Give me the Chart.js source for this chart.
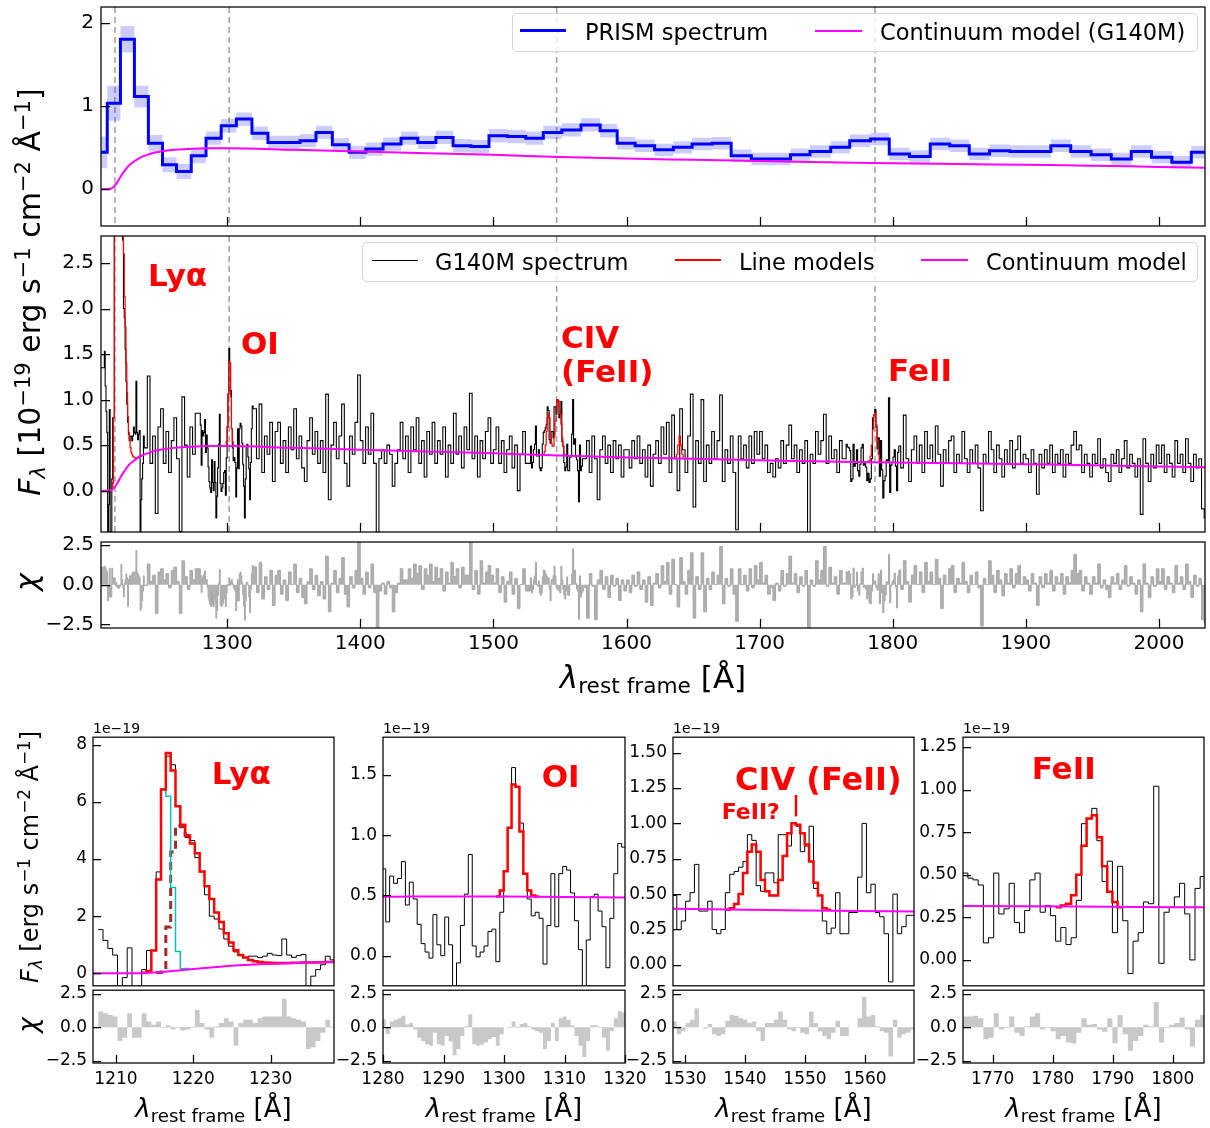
<!DOCTYPE html>
<html>
<head>
<meta charset="utf-8">
<title>PRISM / G140M spectrum</title>
<script src="https://cdn.jsdelivr.net/npm/chart.js@4.4.1/dist/chart.umd.min.js"></script>
<style>
  html, body { margin: 0; padding: 0; background: #fff; }
  #fig { position: relative; width: 1210px; height: 1128px; overflow: hidden; font-family: 'DejaVu Sans', sans-serif; color: #000; }
  #fig canvas { position: absolute; z-index: 1; }
  .t { position: absolute; white-space: nowrap; line-height: 1; z-index: 5; }
  .c { transform: translate(-50%, -50%); }
  .r { transform: translate(-50%, -50%) rotate(-90deg); }
  .ann { color: #ff0000; font-weight: bold; }
  .t sup, .t sub { font-size: 0.7em; line-height: 0; }
  .t sup { vertical-align: 0.5em; }
  .t sub { vertical-align: -0.25em; }
  .leg { position: absolute; box-sizing: border-box; border: 1px solid #d4d4d4; border-radius: 5px; background: rgba(255,255,255,0.8); z-index: 5; }
  .leg span { position: absolute; }
  .leg .lt { font-size: 22.5px; line-height: 1; white-space: nowrap; }
</style>
</head>
<body>
<div id="fig">
  <!-- legends -->
  <div class="leg" style="left:512px;top:13px;width:686px;height:39px;">
    <span style="left:7px;top:15.2px;width:46px;height:3px;background:#0000ff;"></span>
    <span class="lt" style="left:72px;top:7.4px;">PRISM spectrum</span>
    <span style="left:302px;top:15.7px;width:47px;height:2px;background:#ff00ff;"></span>
    <span class="lt" style="left:367px;top:7.4px;">Continuum model (G140M)</span>
  </div>
  <div class="leg" style="left:362px;top:242px;width:836px;height:40px;">
    <span style="left:8.5px;top:16.5px;width:46px;height:1px;background:#000;"></span>
    <span class="lt" style="left:72px;top:7.7px;">G140M spectrum</span>
    <span style="left:311.5px;top:16.2px;width:46px;height:1.5px;background:#ff0000;"></span>
    <span class="lt" style="left:376px;top:7.7px;">Line models</span>
    <span style="left:558px;top:16px;width:47px;height:2px;background:#ff00ff;"></span>
    <span class="lt" style="left:623px;top:7.7px;">Continuum model</span>
  </div>

  <!-- axis labels -->
  <div class="t r" style="left:30px;top:292px;font-size:30px;"><i>F</i><sub><i>λ</i></sub> [10<sup>−19</sup> erg s<sup>−1</sup> cm<sup>−2</sup> Å<sup>−1</sup>]</div>
  <div class="t r" style="left:27px;top:582px;font-size:30px;"><i>χ</i></div>
  <div class="t c" style="left:653px;top:677px;font-size:31px;"><i>λ</i><sub>rest frame</sub> [Å]</div>
  <div class="t r" style="left:30px;top:857px;font-size:24px;"><i>F</i><sub><i>λ</i></sub> [erg s<sup>−1</sup> cm<sup>−2</sup> Å<sup>−1</sup>]</div>
  <div class="t r" style="left:27.5px;top:1025px;font-size:26px;"><i>χ</i></div>
  <div class="t c" style="left:213.5px;top:1107.5px;font-size:26px;"><i>λ</i><sub>rest frame</sub> [Å]</div>
  <div class="t c" style="left:504px;top:1107.5px;font-size:26px;"><i>λ</i><sub>rest frame</sub> [Å]</div>
  <div class="t c" style="left:793.5px;top:1107.5px;font-size:26px;"><i>λ</i><sub>rest frame</sub> [Å]</div>
  <div class="t c" style="left:1083.5px;top:1107.5px;font-size:26px;"><i>λ</i><sub>rest frame</sub> [Å]</div>
  <div class="t" style="left:93px;top:721px;font-size:14px;">1e−19</div>
  <div class="t" style="left:383px;top:721px;font-size:14px;">1e−19</div>
  <div class="t" style="left:673px;top:721px;font-size:14px;">1e−19</div>
  <div class="t" style="left:963px;top:721px;font-size:14px;">1e−19</div>

  <!-- line annotations -->
  <div class="t ann" style="left:148px;top:259.5px;font-size:31px;">Lyα</div>
  <div class="t ann" style="left:241px;top:327.5px;font-size:31px;">OI</div>
  <div class="t ann" style="left:561px;top:321.5px;font-size:31px;">CIV</div>
  <div class="t ann" style="left:561px;top:355.5px;font-size:31px;">(FeII)</div>
  <div class="t ann" style="left:888px;top:354.5px;font-size:31px;">FeII</div>
  <div class="t ann" style="left:211.7px;top:758px;font-size:31px;">Lyα</div>
  <div class="t ann" style="left:541.7px;top:761.4px;font-size:31px;">OI</div>
  <div class="t ann" style="left:735px;top:763px;font-size:32px;">CIV (FeII)</div>
  <div class="t ann" style="left:721.7px;top:800.7px;font-size:22px;">FeII?</div>
  <div class="t ann" style="left:792px;top:793px;font-size:22px;">|</div>
  <div class="t ann" style="left:1031.7px;top:753px;font-size:31px;">FeII</div>
</div>

<script>
// ---------------- data ----------------
// PRISM spectrum (top panel): bin edges [A], flux and 1-sigma [1e-19 erg/s/cm2/A]
const prismEdges = [1204.2, 1209.9, 1219.8, 1230.3, 1240.8, 1251.4, 1261.9, 1273.0, 1284.1, 1295.5,
  1306.9, 1318.6, 1330.6, 1342.6, 1354.7, 1366.7, 1379.0, 1391.6, 1404.2, 1417.1,
  1430.6, 1443.2, 1456.8, 1469.7, 1483.2, 1496.7, 1510.5, 1524.3, 1537.5, 1551.4,
  1565.8, 1580.2, 1593.0, 1606.5, 1621.1, 1635.2, 1649.3, 1664.5, 1678.6, 1693.8,
  1708.5, 1723.2, 1737.8, 1753.4, 1767.7, 1783.3, 1797.4, 1812.6, 1828.2, 1842.8,
  1857.5, 1872.7, 1888.0, 1903.5, 1918.8, 1933.7, 1949.0, 1964.2, 1979.2, 1994.4,
  2009.7, 2024.3, 2037.0];
const prismFlux = [0.44, 1.03, 1.80, 1.11, 0.55, 0.29, 0.21, 0.40, 0.61, 0.76,
  0.84, 0.67, 0.56, 0.56, 0.58, 0.68, 0.53, 0.44, 0.48, 0.54,
  0.61, 0.56, 0.62, 0.52, 0.51, 0.64, 0.63, 0.61, 0.68, 0.71,
  0.77, 0.70, 0.55, 0.52, 0.47, 0.50, 0.54, 0.55, 0.40, 0.36,
  0.36, 0.41, 0.45, 0.50, 0.58, 0.60, 0.42, 0.39, 0.54, 0.52,
  0.42, 0.46, 0.45, 0.45, 0.52, 0.45, 0.41, 0.36, 0.45, 0.38,
  0.32, 0.44];
const prismErr = [0.19, 0.21, 0.16, 0.13, 0.10, 0.09, 0.09, 0.09, 0.08, 0.08,
  0.08, 0.08, 0.08, 0.08, 0.08, 0.08, 0.08, 0.08, 0.08, 0.08,
  0.08, 0.08, 0.08, 0.08, 0.08, 0.08, 0.08, 0.08, 0.08, 0.08,
  0.08, 0.08, 0.075, 0.075, 0.075, 0.075, 0.075, 0.075, 0.075, 0.075,
  0.075, 0.075, 0.075, 0.075, 0.075, 0.075, 0.075, 0.075, 0.075, 0.075,
  0.075, 0.075, 0.075, 0.075, 0.075, 0.075, 0.075, 0.075, 0.075, 0.075,
  0.075, 0.075];

// continuum model (G140M fit), sampled along the curve
const contLam = [1204, 1210, 1213, 1215, 1217, 1220, 1223, 1226, 1230, 1235,
  1240, 1245, 1250, 1260, 1270, 1285, 1300, 1350, 1400, 1450,
  1500, 1550, 1600, 1650, 1700, 1750, 1800, 1850, 1900, 1950,
  2000, 2040];
const contFlux = [0.0, 0.0, 0.005, 0.03, 0.07, 0.15, 0.22, 0.28, 0.33, 0.38,
  0.41, 0.435, 0.45, 0.47, 0.48, 0.49, 0.49, 0.47, 0.45, 0.43,
  0.41, 0.385, 0.365, 0.35, 0.335, 0.32, 0.31, 0.30, 0.29, 0.28,
  0.265, 0.255];

// G140M spectrum on a 2 A grid starting at 1204 A (flux and chi)
const g140mStart = 1204, g140mStep = 2;
const g140mFlux = [
  1.35, 0.5, 1.2, 0.7, -0.5, 0.8, 5.0, 7.0, 4.5, 3.0, 1.6, 0.9, 0.6, 0.6, 0.9, -0.5, 0.2,
  0.4, 1.26, 0.3, 0.6, -0.25, 0.7, 0.9, 0.3, 0.65, 0.2, 0.55, 0.8, 0.35, -0.45, 1.03, 0.5, 0.15, 0.7, 0.4, 0.85, 0.3,
  0.6, 0.7, 0.5, 0.2, 0.1, 0.2, -0.2, 0.7, 0.05, 0.2, 0.9, 1.4, 0.5, 0.3, 0.5, 0.7, 0.2, 0.4, 0.3, 0.8,
  0.9, 0.35, 0.95, 0.2, 0.6, 0.4, 0.75, 0.1, 0.65, 0.75, 0.3, 0.55, 0.2, 0.7, 0.45, 0.9, 0.35, 0.6, 0.25, 0.1,
  0.55, 0.8, 0.4, 0.65, 0.3, 0.55, 0.2, 1.06, -0.1, 0.5, 0.75, 0.35, 0.6, 0.95, 0.3, 0.05, 0.6, 0.4, 0.75, 1.27,
  0.55, 0.3, 0.7, 0.4, 0.85, 0.3, -0.46, 0.35, 0.45, 0.3, 0.5, 0.4, 0.05, 0.3, 0.45, 0.75, 0.35, 0.6, 0.2, 0.7,
  0.45, 0.8, 0.3, 0.55, 0.15, 0.65, 0.4, 0.75, 0.3, 0.55, 0.4, 0.7, 0.15, 0.5, 0.3, 0.85, 0.4, 0.6, 0.25, 0.7,
  0.45, 1.07, 0.35, 0.6, 0.15, 0.55, 0.35, 0.65, 0.8, 0.3,
  0.45, 0.7, 0.3, 0.55, 0.2, 0.45, 0.6, 0.25, 0.5, 0.0, 0.4, 0.65, 0.3, 0.5, 0.35, 0.4, 0.6, 0.25, 0.4, 0.6,
  0.75, 0.85, 0.55, 0.8, 0.95, 0.8, 0.45, 0.25, 0.3, 0.35, 0.8, 0.45, 0.3, 0.1, 0.3, 0.55, 0.2, 0.6, 0.35, -0.1,
  0.45, 0.6, 0.3, 0.5, 0.2, 0.55, 0.35, 0.5, 0.15, 0.45,
  0.45, 0.25, 0.55, 0.35, 0.6, 0.3, 0.45, 0.15, 0.5, 0.05, 0.4, 0.55, 0.3, 0.7, 0.4, 0.75, 0.2, 0.83, 0.35, 0.0,
  0.9, 0.45, 0.2, 0.6, 1.06, -0.18, 0.55, 0.3, 1.0, 0.1, 0.5, 0.3, 0.65, 0.35, 0.55, 1.05, 0.1, 0.45, 0.3, 0.6,
  0.2, -0.43, 0.6, 0.35, 0.5, 0.25, 0.6, 0.3, 0.65, 0.4,
  0.65, 0.35, 0.5, 0.2, 0.3, 0.15, 0.35, 0.25, 0.55, 0.3, 0.5, 0.72, 0.35, 0.5, 0.2, 0.45, 0.3, 0.55, -0.46, 0.4,
  0.3, 0.65, 0.4, 0.55, 0.84, 0.3, 0.6, 0.35, 0.45, 0.2, 0.55, 0.35, 0.67, 0.45, 0.1, 0.5, 0.3, 0.4, 0.2, 0.5,
  0.3, 0.1, 0.35, 0.85, 0.6, 0.4, 0.2, 0.15, 0.35, 1.0,
  0.45, 0.3, 0.4, 0.25, 0.83, 0.35, 0.1, 0.45, 0.6, 0.3, 0.5, 0.2, 0.65, 0.35, 0.5, 0.3, 0.71, 0.4, 0.05, 0.45,
  0.3, 0.55, 0.6, 0.2, 0.4, 0.3, 0.65, 0.35, 0.2, 0.45, 0.3, 0.5, 0.25, -0.22, 0.4, 0.3, 0.65, 0.45, 0.2, 0.5,
  0.35, 0.15, 0.45, 0.3, 0.55, 0.25, 0.45, 0.6, 0.3, 0.4,
  0.35, 0.2, 0.45, 0.3, -0.04, 0.4, 0.25, 0.45, 0.3, 0.5, 0.2, 0.4, 0.3, 0.45, 0.15, 0.4, 0.3, 0.5, 0.65, 0.45,
  0.5, 0.2, 0.4, 0.3, 0.15, 0.4, 0.3, 0.57, 0.25, 0.35, 0.2, 0.1, 0.4, 0.3, 0.45, 0.2, 0.35, 0.55, 0.25, 0.4,
  0.3, 0.15, 0.35, -0.26, 0.57, 0.3, 0.1, 0.4, 0.25, 0.5,
  0.3, 0.5, 0.2, 0.4, 0.3, 0.15, 0.55, 0.3, 0.4, 0.2, 0.57, 0.3, 0.1, 0.4, 0.25, 0.35, -0.2, -0.3];
const g140mChi = [
  1.1, 1.0, 0.9, 0.7, -0.9, 1.0, 0.3, 0.2, 0.0, -0.2, 0.1, 1.2, 0.4, -0.8, 0.6, 0.8, -1.6,
  0.4, 1.3, 0.2, 0.6, -1.8, 0.8, 1.0, 0.3, 0.7, -0.2, 0.9, 1.1, 0.2, -1.8, 1.5, 0.5, -0.3, 0.9, 0.3, 1.0, -0.4,
  0.6, 0.7, 0.3, -0.9, -1.3, -1.0, -2.1, 0.8, -1.4, -0.9, 0.5, 0.2, 0.0, -0.6, 0.3, 0.7, -2.2, -0.3, -0.6, 0.9,
  1.2, -0.5, 1.4, -0.9, 0.5, -0.3, 0.9, -1.3, 0.6, 0.9, -0.6, 0.3, -1.0, 0.8, 0.0, 1.3, -0.5, 0.4, -0.8, -1.2,
  0.2, 1.0, -0.3, 0.6, -0.7, 0.2, -0.9, 1.8, -1.7, 0.1, 0.9, -0.5, 0.4, 1.7, -0.6, -1.4, 0.5, -0.2, 0.9, 2.7,
  0.4, -0.6, 0.8, -0.2, 1.3, -0.5, -2.9, -0.4, 0.1, -0.6, 0.2, -0.2, -1.7, -0.5, 0.1, 1.0, 0.3, 0.3, 1.0, 0.4,
  1.3, 0.7, 1.2, -0.3, 1.0, 0.6, 1.3, 0.2, 1.1, 0.4, 1.0, -0.4, 0.8, 0.1, 1.4, 0.5, 1.0, -0.2, 1.1, 0.6,
  0.6, 2.7, -0.3, 0.9, -0.6, 1.5, 0.1, 0.8, 1.2, 0.6,
  0.1, 1.0, -0.5, 0.5, -1.1, 0.2, 0.8, -0.6, 0.4, -1.5, 0.0, 1.0, -0.4, 0.6, -0.1, 0.1, 0.8, -0.6, 0.1, 0.8,
  1.3, 1.4, 0.5, 1.2, 1.0, 0.6, 0.3, -0.5, -0.4, 2.3, 0.3, -0.4, -2.0, -1.4, 0.2, -2.1, 0.7, -0.1, -2.2, 0.3,
  0.9, -0.3, 0.5, -0.8, 0.6, -0.1, 0.4, -1.0, 0.3, -0.4,
  0.3, -0.5, 0.6, -0.1, 0.8, -0.3, 0.3, -1.1, 0.5, -1.3, 0.1, 0.7, -0.2, 1.2, 0.2, 1.4, -0.6, 1.6, 0.0, -1.4,
  1.7, 0.2, -0.6, 0.9, 2.0, -2.1, 0.5, -0.3, 2.0, -1.7, 0.4, -0.3, 0.8, 0.0, 0.6, 2.4, -1.2, 0.4, -0.1, 1.0,
  -0.6, -2.3, 1.0, 0.0, 0.6, -0.4, 1.0, -0.2, 1.2, 0.3,
  1.4, 0.1, 0.6, -0.6, -0.2, -1.0, 0.1, -0.4, 0.9, -0.1, 0.7, 1.8, 0.1, 0.7, -0.5, 0.5, -0.1, 0.9, -2.7, 0.3,
  -0.1, 1.5, 0.3, 0.9, 2.4, -0.1, 1.1, 0.1, 0.5, -0.6, 0.9, 0.1, 1.4, 0.5, -1.2, 0.8, -0.1, 0.3, -0.6, 0.8,
  0.0, -1.2, 0.2, 1.0, 0.3, 0.3, -0.6, -0.9, 0.2, 1.9,
  0.5, 0.0, 0.4, -0.3, 1.5, 0.2, -1.1, 0.6, 1.2, 0.0, 0.8, -0.5, 1.4, 0.2, 0.8, 0.0, 1.6, 0.4, -1.5, 0.6,
  0.0, 1.0, 1.2, -0.5, 0.4, 0.1, 1.4, 0.2, -0.5, 0.6, 0.0, 0.8, -0.2, -2.6, 0.4, 0.0, 1.5, 0.6, -0.5, 0.9,
  0.3, -0.7, 0.7, 0.1, 1.0, -0.2, 0.7, 1.2, 0.0, 0.5,
  0.3, -0.4, 0.7, 0.1, -1.3, 0.5, -0.2, 0.7, 0.1, 0.9, -0.4, 0.5, 0.1, 0.7, -0.6, 0.5, 0.1, 0.9, 1.9, 0.7,
  0.9, -0.4, 0.5, 0.1, -0.6, 0.5, 0.1, 1.3, -0.2, 0.3, -0.3, -0.8, 0.5, 0.1, 0.7, -0.3, 0.3, 1.2, -0.1, 0.5,
  0.1, -0.6, 0.3, -1.7, 1.3, 0.1, -0.8, 0.5, -0.1, 1.0,
  0.2, 1.0, -0.3, 0.5, 0.1, -0.5, 1.2, 0.1, 0.5, -0.3, 1.3, 0.2, -0.8, 0.6, -0.1, 0.4, -2.2, -2.4];

// Lya zoom: full-resolution bins
const lyaStart = 1207.7, lyaStep = 0.625;
const lyaFlux = [1.53, 1.15, 0.87, 0.64, -0.5, -0.15, 0.89, -0.5, -0.45, 0.13,
  0.8, 0.8, 3.55, 6.45, 7.6, 7.3, 5.85, 5.2, 4.75, 4.65,
  4.05, 3.55, 2.75, 2.0, 1.9, 1.55, 1.2, 0.95, 0.75, 0.62,
  0.55, 0.6, 0.6, 0.55, 0.6, 0.7, 0.64, 0.62, 1.2, 0.64,
  0.56, 0.62, 0.66, -0.5, -0.1, 0.13, 0.3, 0.6, 0.47];
const lyaChi = [1.17, 1.04, 0.92, 0.8, -1.02, -0.78, 1.04, -0.78, -0.78, 1.04,
  0.44, 0.19, 0.44, -0.05, 0.15, -0.17, -0.05, -0.24, -0.17, -0.05,
  1.29, 0.32, -0.17, -0.78, 0.07, 0.32, 0.68, 0.44, -1.38, 0.32,
  0.56, 0.56, 0.32, 0.68, 0.8, 0.8, 0.8, 0.8, 2.14, 0.8,
  0.68, 0.56, 0.44, -1.63, -1.5, -1.02, -0.41, 0.56, -0.05];
const lyaModel = [null, null, null, null, null, null, null, null, null, 0.02,
  0.08, 0.8, 3.28, 6.43, 7.71, 7.1, 5.85, 5.2, 4.82, 4.54,
  4.2, 3.56, 3.05, 2.6, 2.13, 1.8, 1.4, 1.08, 0.81, 0.64,
  0.55, 0.47, 0.42, 0.40, 0.38, 0.37, 0.36, 0.36, 0.36, 0.36,
  0.37, 0.37, 0.38, 0.38, 0.38, 0.39, 0.39, 0.40, 0.40];
const lyaBluePeak = [null, null, null, null, null, null, null, null, null, null,
  0.08, 0.8, 3.28, 6.43, 6.2, 3.0, 0.76, 0.16, 0.17, null,
  null, null, null, null, null, null, null, null, null, null,
  null, null, null, null, null, null, null, null, null, null,
  null, null, null, null, null, null, null, null, null];
const lyaRedPeak = [null, null, null, null, null, null, null, null, null, null,
  null, null, 0.03, 0.05, 1.62, 4.25, 5.17, 5.13, 4.82, null,
  null, null, null, null, null, null, null, null, null, null,
  null, null, null, null, null, null, null, null, null, null,
  null, null, null, null, null, null, null, null, null];

// OI zoom
const oiStart = 1279.8, oiStep = 0.65;
const oiFlux = [0.72, 0.28, 0.66, 0.6, 0.64, 0.78, 0.42, 0.61, 0.47, 0.26,
  0.1, 0.03, -0.02, 0.34, 0.09, 0.0, 0.32, 0.09, -0.3, -0.06,
  0.25, 0.51, 0.84, 0.08, -0.01, 0.03, 0.08, 0.2, 0.22, -0.05,
  0.36, 0.7, 1.06, 1.56, 1.4, 1.1, 0.68, 0.47, 0.33, 0.36,
  0.31, -0.07, 0.25, 0.68, 0.24, 0.68, 0.74, 0.71, 0.52, 0.29,
  0.05, -0.3, 0.13, 0.49, 0.51, 0.37, 0.24, -0.1, 0.31, 0.68,
  0.93, 0.9];
const oiChi = [0.6, -0.5, 0.44, 0.56, 0.68, 0.87, 0.2, 0.32, -0.17, -0.78,
  -1.02, -1.26, -1.38, -0.41, -1.26, -1.38, -0.66, -1.07, -2.1, -1.63,
  -0.66, 0.07, 0.97, -1.26, -1.38, -1.31, -1.14, -0.9, -0.73, -1.38,
  -0.53, 0.0, -0.05, 0.44, -0.05, 0.24, 0.32, 0.07, -0.17, -0.29,
  -0.41, -1.63, -1.02, 0.32, -1.02, 0.68, 0.8, 0.56, 0.15, -0.66,
  -1.38, -2.23, -1.02, 0.15, 0.15, -0.05, -0.78, -1.75, -0.29, 0.68,
  1.21, 1.12];
const oiModel = [null, null, null, null, null, null, null, null, null, null,
  null, null, null, null, null, null, null, null, null, null,
  null, null, null, null, null, null, null, null, null, 0.49,
  0.54, 0.7, 1.06, 1.42, 1.40, 1.03, 0.68, 0.54, 0.5, 0.49];

// CIV zoom
const civStart = 1527.9, civStep = 0.735;
const civFlux = [0.49, 0.25, 0.31, 0.45, 0.51, 0.71, 0.38, 0.38, 0.45, 0.25,
  0.22, 0.25, 0.51, 0.64, 0.66, 0.69, 0.73, 0.92, 0.88, 0.56,
  0.52, 0.65, 0.65, 0.58, 0.92, 0.92, 0.84, 1.0, 0.98, 0.8,
  0.84, 0.98, 0.54, 0.49, 0.31, 0.22, 0.26, 0.51, 0.22, 0.22,
  0.37, 0.37, 0.62, 1.0, 0.51, 0.57, 0.37, 0.34, 0.22, -0.12,
  0.5, 0.22, 0.27, 0.35, 0.35];
const civChi = [0.44, -0.53, -0.29, 0.32, 0.56, 1.41, 0.0, -0.1, 0.24, -0.53,
  -0.66, -0.53, 0.49, 0.92, 0.87, 0.68, 0.56, 0.32, 0.44, -0.29,
  -1.02, 0.32, 0.32, 0.56, 1.17, 0.56, -0.17, -0.29, -0.05, -0.41,
  -0.53, 1.17, 0.32, -0.29, -0.66, -0.9, -0.41, 0.49, -0.66, -0.66,
  0.0, 0.0, 0.68, 2.26, 0.8, 0.92, 0.07, -0.29, -0.41, -2.18,
  0.56, -0.78, -0.53, -0.41, -0.17];
const civModel = [null, null, null, null, null, null, null, null, null, null,
  null, null, 0.39, 0.40, 0.43, 0.5, 0.65, 0.8, 0.85, 0.8,
  0.6, 0.52, 0.49, 0.49, 0.6, 0.77, 0.93, 1.0, 0.99, 0.93,
  0.85, 0.73, 0.58, 0.49, 0.40, 0.39];

// HeII 1640 bump (only in the full-range panel)
const heiiStart = 1636.5, heiiStep = 1.0;
const heiiModel = [0.37, 0.40, 0.50, 0.60, 0.50, 0.40, 0.37];

// FeII 1786 zoom
const feStart = 1765.0, feStep = 0.86;
const feFlux = [0.51, 0.48, 0.47, 0.44, 0.10, 0.13, 0.51, 0.27, 0.30, 0.45,
  0.22, 0.16, 0.29, 0.47, 0.51, 0.28, 0.32, 0.26, 0.11, 0.19,
  0.09, 0.13, 0.35, 0.80, 0.83, 0.89, 0.70, 0.46, 0.58, 0.16,
  0.55, 0.23, -0.08, 0.11, 0.16, 0.34, 0.33, 1.02, -0.02, 0.28,
  0.31, 0.37, 0.45, 0.27, 0.0, 0.42, 0.49];
const feChi = [0.8, 0.8, 0.87, 0.68, -0.9, -0.78, 1.04, -0.17, -0.05, 0.8,
  -0.41, -0.66, 0.07, 0.8, 1.04, -0.17, -0.05, -0.29, -0.9, -0.66,
  -1.14, -1.21, -0.41, 0.68, 0.19, 0.24, -0.17, -0.34, 0.68, -1.2,
  0.92, -0.53, -1.75, -1.02, -0.66, 0.19, 0.07, 1.89, -1.14, -0.05,
  0.19, 0.32, 0.73, -0.17, -1.46, 0.56, 0.92];
const feModel = [null, null, null, null, null, null, null, null, null, null,
  null, null, null, null, null, null, null, null, 0.31, 0.32,
  0.33, 0.38, 0.5, 0.67, 0.83, 0.85, 0.72, 0.55, 0.4, 0.34, 0.31];

// ticks and marked lines
const mainXTicks = [1300, 1400, 1500, 1600, 1700, 1800, 1900, 2000];
const topYTicks = [0, 1, 2];
const midYTicks = [0, 0.5, 1, 1.5, 2, 2.5];
const chiYTicks = [-2.5, 0, 2.5];
const lyaXTicks = [1210, 1220, 1230];
const lyaYTicks = [0, 2, 4, 6, 8];
const oiXTicks = [1280, 1290, 1300, 1310, 1320];
const oiYTicks = [0, 0.5, 1, 1.5];
const civXTicks = [1530, 1540, 1550, 1560];
const civYTicks = [0, 0.25, 0.5, 0.75, 1, 1.25, 1.5];
const feXTicks = [1770, 1780, 1790, 1800];
const feYTicks = [0, 0.25, 0.5, 0.75, 1, 1.25];
const lineLams = [1215.7, 1301.5, 1547.5, 1786.7];

// ---------------- helpers ----------------
const FONT = "'DejaVu Sans', sans-serif";
const fig = document.getElementById('fig');

function fmt(v, d) {
  return (v < 0 ? '\u2212' : '') + Math.abs(v).toFixed(d);
}

// x = left edge of each bin, plus one point to close the last bin
function stepData(start, step, vals) {
  const pts = [];
  let last = -1;
  vals.forEach((v, i) => {
    if (v === null) return;
    pts.push({x: start + i * step, y: v});
    last = i;
  });
  if (last >= 0) pts.push({x: start + (last + 1) * step, y: vals[last]});
  return pts;
}
function edgeData(edges, vals, err, sign) {
  const pts = vals.map((v, i) => ({x: edges[i], y: v + sign * (err ? err[i] : 0)}));
  pts.push({x: edges[vals.length], y: pts[pts.length - 1].y});
  return pts;
}
function curveData(xs, ys) {
  return xs.map((x, i) => ({x: x, y: ys[i]}));
}

// coarse G140M grid with the zoom windows dropped in at full resolution
const windows = [
  {start: lyaStart, step: lyaStep, flux: lyaFlux, chi: lyaChi},
  {start: oiStart, step: oiStep, flux: oiFlux, chi: oiChi},
  {start: civStart, step: civStep, flux: civFlux, chi: civChi},
  {start: feStart, step: feStep, flux: feFlux, chi: feChi}
];
function splice(grid, key) {
  const pts = [];
  grid.forEach((v, i) => {
    const a = g140mStart + i * g140mStep, b = a + g140mStep;
    const inside = windows.some(w => b > w.start && a < w.start + w[key].length * w.step);
    if (!inside) pts.push({x: a, y: v});
  });
  windows.forEach(w => w[key].forEach((v, i) => pts.push({x: w.start + i * w.step, y: v})));
  pts.sort((p, q) => p.x - q.x);
  pts.push({x: g140mStart + grid.length * g140mStep, y: pts[pts.length - 1].y});
  return pts;
}

// 'before' = hold each value from its own x up to the next point
function ln(data, color, width, more) {
  return Object.assign({data: data, borderColor: color, borderWidth: width, pointRadius: 0,
    fill: false, stepped: 'before'}, more || {});
}
function contSet(width) {
  return ln(curveData(contLam, contFlux), '#ff00ff', width,
    {stepped: false, cubicInterpolationMode: 'monotone', order: 0});
}

// frame, inward ticks and the dashed line markers
const framePlugin = {
  id: 'frame',
  beforeDatasetsDraw(chart, args, opts) {
    const ctx = chart.ctx, a = chart.chartArea, x = chart.scales.x;
    (opts.vlines || []).forEach(v => {
      const px = x.getPixelForValue(v);
      ctx.save();
      ctx.strokeStyle = '#a0a0a0';
      ctx.lineWidth = 1.5;
      ctx.setLineDash([6, 4]);
      ctx.beginPath();
      ctx.moveTo(px, a.top);
      ctx.lineTo(px, a.bottom);
      ctx.stroke();
      ctx.restore();
    });
  },
  afterDraw(chart, args, opts) {
    const ctx = chart.ctx, a = chart.chartArea, x = chart.scales.x, y = chart.scales.y;
    ctx.save();
    ctx.strokeStyle = '#000';
    ctx.lineWidth = 1.25;
    ctx.setLineDash([]);
    ctx.strokeRect(a.left, a.top, a.right - a.left, a.bottom - a.top);
    ctx.beginPath();
    (opts.yt || []).forEach(v => {
      const py = Math.round(y.getPixelForValue(v)) + 0.5;
      ctx.moveTo(a.left, py);
      ctx.lineTo(a.left + opts.len, py);
    });
    (opts.xt || []).forEach(v => {
      const px = Math.round(x.getPixelForValue(v)) + 0.5;
      ctx.moveTo(px, a.bottom);
      ctx.lineTo(px, a.bottom - opts.len);
    });
    ctx.stroke();
    ctx.restore();
  }
};

// one canvas per subplot, sized so the chart area lands on box
function panel(box, o) {
  const c = document.createElement('canvas');
  const w = o.yW + box.w + o.padR, h = o.padT + box.h + o.padB;
  c.width = w;
  c.height = h;
  c.style.left = (box.x - o.yW) + 'px';
  c.style.top = (box.y - o.padT) + 'px';
  c.style.width = w + 'px';
  c.style.height = h + 'px';
  fig.appendChild(c);
  const showX = !!o.xLabels;
  return new Chart(c, {
    type: 'line',
    data: {datasets: o.datasets},
    options: {
      responsive: false,
      animation: false,
      events: [],
      layout: {padding: {left: 0, top: o.padT, right: o.padR, bottom: showX ? 0 : o.padB}},
      scales: {
        x: {
          type: 'linear', min: o.xMin, max: o.xMax,
          grid: {display: false, drawTicks: false}, border: {display: false},
          ticks: {display: showX, color: '#000', font: {family: FONT, size: o.fs}, padding: o.xPad || 0,
            maxRotation: 0, autoSkip: false, callback: v => fmt(v, 0)},
          afterBuildTicks: s => { s.ticks = o.xTicks.map(v => ({value: v})); },
          afterFit: s => { s.height = showX ? o.padB : 0; }
        },
        y: {
          type: 'linear', min: o.yMin, max: o.yMax,
          grid: {display: false, drawTicks: false}, border: {display: false},
          ticks: {color: '#000', font: {family: FONT, size: o.fs}, padding: o.yPad, autoSkip: false,
            callback: v => fmt(v, o.yDec)},
          afterBuildTicks: s => { s.ticks = o.yTicks.map(v => ({value: v})); },
          afterFit: s => { s.width = o.yW; }
        }
      },
      plugins: {
        legend: {display: false},
        tooltip: {enabled: false},
        frame: {xt: o.xMarks ? o.xTicks : [], yt: o.yTicks, len: o.tickLen, vlines: o.vlines}
      }
    },
    plugins: [framePlugin]
  });
}

// ---------------- full-range panels ----------------
const main = {xMin: 1205.2, xMax: 2034.6, xTicks: mainXTicks, xMarks: true, fs: 20,
  yW: 101, padT: 14, padR: 5, tickLen: 9, yPad: 7};

panel({x: 101, y: 2, w: 1104, h: 229}, Object.assign({}, main, {
  yMin: -0.445, yMax: 2.187, yTicks: topYTicks, yDec: 0, padB: 14, vlines: lineLams,
  datasets: [
    ln(edgeData(prismEdges, prismFlux, null, 0), '#0000ff', 3, {order: 1}),
    contSet(2),
    ln(edgeData(prismEdges, prismFlux, prismErr, 1), 'rgba(0,0,0,0)', 0,
      {fill: '+1', backgroundColor: 'rgba(0,0,255,0.2)', order: 2}),
    ln(edgeData(prismEdges, prismFlux, prismErr, -1), 'rgba(0,0,0,0)', 0, {order: 2})
  ]
}));

panel({x: 101, y: 231, w: 1104, h: 306}, Object.assign({}, main, {
  yMin: -0.454, yMax: 2.797, yTicks: midYTicks, yDec: 1, padB: 14, vlines: lineLams,
  datasets: [
    ln(splice(g140mFlux, 'flux'), '#000000', 1.1, {order: 2}),
    ln(stepData(lyaStart, lyaStep, lyaModel), '#ff0000', 1.2, {order: 1}),
    ln(stepData(oiStart, oiStep, oiModel), '#ff0000', 1.2, {order: 1}),
    ln(stepData(civStart, civStep, civModel), '#ff0000', 1.2, {order: 1}),
    ln(stepData(heiiStart, heiiStep, heiiModel), '#ff0000', 1.2, {order: 1}),
    ln(stepData(feStart, feStep, feModel), '#ff0000', 1.2, {order: 1}),
    contSet(2)
  ]
}));

panel({x: 101, y: 537, w: 1104, h: 91}, Object.assign({}, main, {
  yMin: -2.72, yMax: 2.68, yTicks: chiYTicks, yDec: 1, padB: 50, xLabels: true, xPad: 4,
  datasets: [ln(splice(g140mChi, 'chi'), '#a8a8a8', 1, {fill: 'origin', backgroundColor: '#b0b0b0'})]
}));

// ---------------- zoom panels ----------------
const zooms = [
  {x: 93, w: 241, xMin: 1207.03, xMax: 1238.2, xTicks: lyaXTicks, yMin: -0.437, yMax: 8.265,
   yTicks: lyaYTicks, yDec: 0, start: lyaStart, step: lyaStep, flux: lyaFlux, chi: lyaChi, model: lyaModel,
   extra: [
     ln(stepData(lyaStart, lyaStep, lyaBluePeak), '#00bfbf', 1.5, {order: 2}),
     ln(stepData(lyaStart, lyaStep, lyaRedPeak), '#a52a2a', 3, {borderDash: [8, 5], order: 2})
   ]},
  {x: 383, w: 242, xMin: 1280, xMax: 1320, xTicks: oiXTicks, yMin: -0.25, yMax: 1.812,
   yTicks: oiYTicks, yDec: 1, start: oiStart, step: oiStep, flux: oiFlux, chi: oiChi, model: oiModel},
  {x: 673, w: 241, xMin: 1528.0, xMax: 1568.17, xTicks: civXTicks, yMin: -0.148, yMax: 1.609,
   yTicks: civYTicks, yDec: 2, start: civStart, step: civStep, flux: civFlux, chi: civChi, model: civModel},
  {x: 963, w: 241, xMin: 1765.05, xMax: 1805.2, xTicks: feXTicks, yMin: -0.152, yMax: 1.308,
   yTicks: feYTicks, yDec: 2, start: feStart, step: feStep, flux: feFlux, chi: feChi, model: feModel}
];

zooms.forEach(z => {
  const common = {xMin: z.xMin, xMax: z.xMax, xTicks: z.xTicks, fs: 17, yW: 60, padT: 14, padR: 30,
    tickLen: 8, yPad: 6};
  const sets = [
    ln(stepData(z.start, z.step, z.flux), '#000000', 1, {order: 3}),
    ln(stepData(z.start, z.step, z.model), '#ff0000', 2.5, {order: 1}),
    contSet(2)
  ].concat(z.extra || []);
  panel({x: z.x, y: 735, w: z.w, h: 253}, Object.assign({}, common, {
    yMin: z.yMin, yMax: z.yMax, yTicks: z.yTicks, yDec: z.yDec, padB: 14, datasets: sets
  }));
  panel({x: z.x, y: 988, w: z.w, h: 75}, Object.assign({}, common, {
    yMin: -2.67, yMax: 2.77, yTicks: chiYTicks, yDec: 1, padB: 40, xLabels: true, xMarks: true, xPad: 6,
    datasets: [ln(stepData(z.start, z.step, z.chi), '#c8c8c8', 0, {fill: 'origin', backgroundColor: '#c8c8c8'})]
  }));
});
</script>
</body>
</html>
